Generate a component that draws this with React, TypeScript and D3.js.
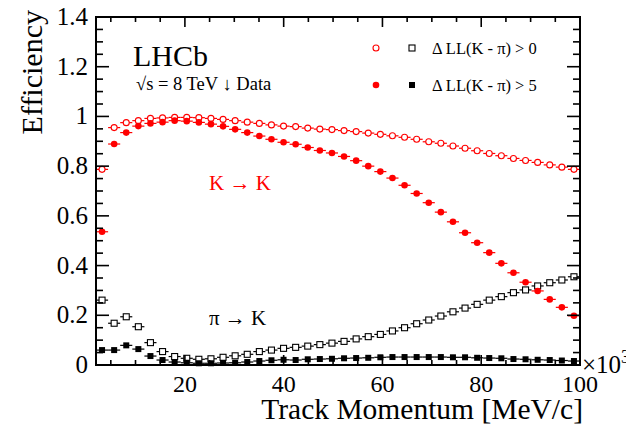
import React from 'react'
import * as d3 from 'd3'

// binning: 40 bins from 2 to 100 GeV/c (axis in MeV/c x10^3)
const binLow = 2
const binHigh = 100
const nBins = 40

// K -> K efficiency
const kaonLoose = [
  0.787, 0.955, 0.975, 0.983, 0.992, 0.994, 0.996, 0.996, 0.995, 0.992,
  0.988, 0.983, 0.977, 0.972, 0.966, 0.961, 0.959, 0.953, 0.949, 0.947,
  0.943, 0.939, 0.933, 0.928, 0.922, 0.916, 0.908, 0.898, 0.892, 0.881,
  0.872, 0.862, 0.851, 0.842, 0.831, 0.823, 0.815, 0.805, 0.796, 0.787,
]
const kaonTight = [
  0.536, 0.889, 0.935, 0.961, 0.972, 0.977, 0.983, 0.981, 0.976, 0.969,
  0.960, 0.948, 0.935, 0.921, 0.908, 0.896, 0.888, 0.875, 0.863, 0.853,
  0.839, 0.822, 0.800, 0.778, 0.752, 0.723, 0.690, 0.653, 0.615, 0.576,
  0.532, 0.492, 0.452, 0.409, 0.371, 0.333, 0.298, 0.264, 0.232, 0.198,
]
// pi -> K misid rate
const pionLoose = [
  0.261, 0.168, 0.194, 0.154, 0.090, 0.054, 0.034, 0.027, 0.023, 0.025,
  0.031, 0.037, 0.043, 0.054, 0.060, 0.067, 0.071, 0.076, 0.082, 0.088,
  0.095, 0.105, 0.114, 0.123, 0.137, 0.150, 0.166, 0.181, 0.197, 0.214,
  0.229, 0.244, 0.261, 0.275, 0.291, 0.302, 0.318, 0.331, 0.342, 0.355,
]
const pionTight = [
  0.060, 0.060, 0.079, 0.064, 0.036, 0.020, 0.012, 0.009, 0.007, 0.007,
  0.008, 0.009, 0.012, 0.016, 0.019, 0.021, 0.020, 0.023, 0.024, 0.025,
  0.027, 0.028, 0.029, 0.031, 0.032, 0.032, 0.032, 0.032, 0.032, 0.031,
  0.031, 0.029, 0.028, 0.027, 0.024, 0.023, 0.021, 0.020, 0.018, 0.016,
]

const xTicks = [20, 40, 60, 80, 100]
const yTicks = [0, 0.2, 0.4, 0.6, 0.8, 1, 1.2, 1.4]

const W = 626
const H = 430
const margin = { top: 17, right: 46, bottom: 65, left: 96 }
const RED = '#ff0000'
const font = '"Liberation Serif", "DejaVu Serif", Times, serif'

export default function App() {
  const x = d3.scaleLinear().domain([binLow, binHigh]).range([margin.left, W - margin.right])
  const y = d3.scaleLinear().domain([0, 1.4]).range([H - margin.bottom, margin.top])
  const bw = (binHigh - binLow) / nBins
  const centers = d3.range(nBins).map(i => binLow + (i + 0.5) * bw)

  const xMinor = d3.range(5, 100, 5)
  const yMinor = d3.range(0, 1.4001, 0.05)
  const x0 = x.range()[0], x1 = x.range()[1]
  const y0 = y.range()[0], y1 = y.range()[1]

  const bars = (vals: number[], color: string) =>
    vals.map((v, i) => (
      <line key={'b' + i} x1={x(centers[i] - bw / 2)} x2={x(centers[i] + bw / 2)}
        y1={y(v)} y2={y(v)} stroke={color} strokeWidth={1.2} />
    ))

  return (
    <div style={{ position: 'absolute', left: 0, top: 0 }}>
      <svg width={W} height={H} style={{ display: 'block', fontFamily: font }}>
        <rect width={W} height={H} fill="#fff" />

        {/* error bars (bin width) */}
        {bars(pionLoose, '#000')}
        {bars(pionTight, '#000')}
        {bars(kaonLoose, RED)}
        {bars(kaonTight, RED)}

        {/* markers */}
        {pionLoose.map((v, i) => (
          <rect key={'pl' + i} x={x(centers[i]) - 3} y={y(v) - 3} width={6} height={6}
            fill="#fff" stroke="#000" strokeWidth={1.1} />
        ))}
        {pionTight.map((v, i) => (
          <rect key={'pt' + i} x={x(centers[i]) - 3} y={y(v) - 3} width={6} height={6} fill="#000" />
        ))}
        {kaonLoose.map((v, i) => (
          <circle key={'kl' + i} cx={x(centers[i])} cy={y(v)} r={3} fill="#fff" stroke={RED} strokeWidth={1.1} />
        ))}
        {kaonTight.map((v, i) => (
          <circle key={'kt' + i} cx={x(centers[i])} cy={y(v)} r={3.3} fill={RED} />
        ))}

        {/* frame */}
        <rect x={x0} y={y1} width={x1 - x0} height={y0 - y1} fill="none" stroke="#000" strokeWidth={2} />
        {xMinor.map(t => {
          const major = t % 20 === 0
          const len = major ? 10 : 5
          return (
            <g key={'xt' + t}>
              <line x1={x(t)} x2={x(t)} y1={y0} y2={y0 - len} stroke="#000" strokeWidth={1.6} />
              <line x1={x(t)} x2={x(t)} y1={y1} y2={y1 + len} stroke="#000" strokeWidth={1.6} />
            </g>
          )
        })}
        {yMinor.map((t, i) => {
          const major = i % 4 === 0
          const len = major ? 13 : 7
          return (
            <g key={'yt' + i}>
              <line x1={x0} x2={x0 + len} y1={y(t)} y2={y(t)} stroke="#000" strokeWidth={1.6} />
              <line x1={x1} x2={x1 - len} y1={y(t)} y2={y(t)} stroke="#000" strokeWidth={1.6} />
            </g>
          )
        })}

        {/* tick labels */}
        {xTicks.map(t => (
          <text key={'xl' + t} x={x(t)} y={y0 + 27} textAnchor="middle" fontSize={24}>{t}</text>
        ))}
        {yTicks.map(t => (
          <text key={'yl' + t} x={x0 - 8} y={y(t) + 8} textAnchor="end" fontSize={25}>{String(t)}</text>
        ))}
        <text x={x1 + 2} y={y0 + 8} fontSize={25}>×10<tspan dy={-10} fontSize={18}>3</tspan></text>

        {/* axis titles */}
        <text transform={`translate(${42},${y1 - 7}) rotate(-90)`} textAnchor="end" fontSize={30}>Efficiency</text>
        <text x={x1 + 3} y={H - 11} textAnchor="end" fontSize={29.5}>Track Momentum [MeV/c]</text>

        {/* labels */}
        <text x={133} y={66} fontSize={30}>LHCb</text>
        <text x={136} y={90} fontSize={18.5}>√s = 8 TeV ↓ Data</text>
        <text x={209} y={190} fontSize={21} fill={RED}>K → K</text>
        <text x={209} y={325} fontSize={21}>π → K</text>

        {/* legend */}
        <circle cx={376} cy={48} r={3} fill="#fff" stroke={RED} strokeWidth={1.1} />
        <rect x={409} y={45} width={6} height={6} fill="#fff" stroke="#000" strokeWidth={1.1} />
        <text x={432} y={54} fontSize={16.5}>Δ LL(K - π) &gt; 0</text>
        <circle cx={376} cy={85} r={3.3} fill={RED} />
        <rect x={409} y={82} width={6} height={6} fill="#000" />
        <text x={432} y={91} fontSize={16.5}>Δ LL(K - π) &gt; 5</text>
      </svg>
    </div>
  )
}
